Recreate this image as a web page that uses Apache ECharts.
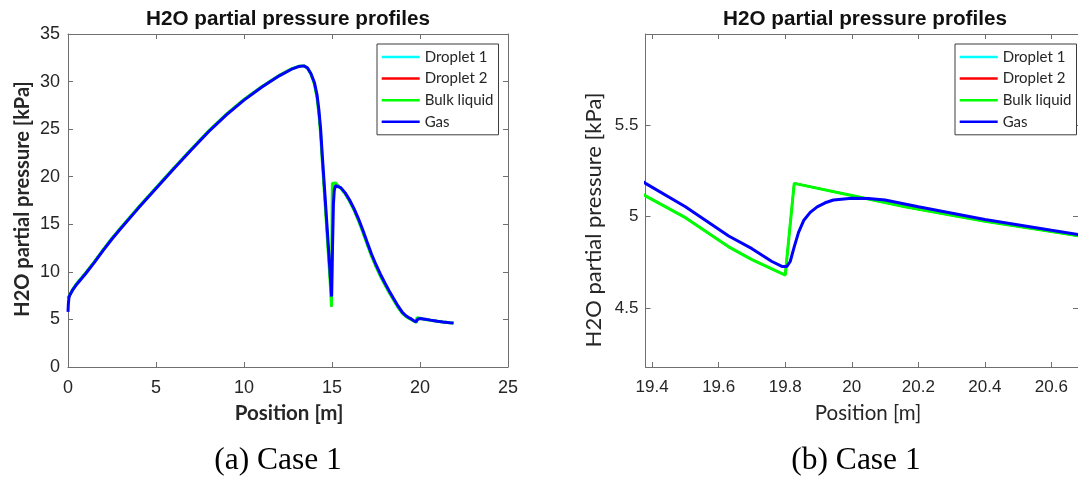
<!DOCTYPE html>
<html>
<head>
<meta charset="utf-8">
<script src="https://cdn.jsdelivr.net/npm/echarts@6/dist/echarts.min.js"></script>
<style>
  html, body { margin: 0; padding: 0; background: #ffffff; }
  #chart { width: 1078px; height: 478px; }
</style>
</head>
<body>
<div id="chart"></div>
<script>
// H2O partial pressure along the column, [position m, pressure kPa]
const gasProfile = [
  [0.00, 5.80], [0.02, 6.60], [0.05, 7.25], [0.10, 7.55], [0.25, 8.05], [0.50, 8.70],
  [0.75, 9.25], [1.00, 9.80], [1.50, 11.00], [2.00, 12.25], [2.50, 13.45], [3.00, 14.55],
  [4.00, 16.70], [5.00, 18.75], [6.00, 20.80], [7.00, 22.80], [8.00, 24.75], [9.00, 26.50],
  [10.00, 28.05], [11.00, 29.40], [12.00, 30.60], [12.70, 31.30], [13.10, 31.58], [13.40, 31.65],
  [13.60, 31.45], [13.80, 30.85], [14.00, 29.90], [14.15, 28.60], [14.25, 27.10], [14.35, 25.10],
  [14.45, 22.20], [14.60, 18.10], [14.75, 13.90], [14.90, 9.70], [14.98, 7.40], [15.03, 12.60],
  [15.08, 17.10], [15.13, 18.60], [15.20, 19.05], [15.28, 19.15], [15.50, 18.85], [15.75, 18.30],
  [16.00, 17.55], [16.25, 16.65], [16.50, 15.60], [16.75, 14.40], [17.00, 13.10], [17.25, 11.85],
  [17.50, 10.75], [17.75, 9.75], [18.00, 8.85], [18.25, 8.00], [18.50, 7.20], [18.75, 6.42],
  [19.00, 5.74], [19.20, 5.39], [19.38, 5.181], [19.50, 5.053], [19.63, 4.894], [19.70, 4.825],
  [19.76, 4.755], [19.79, 4.728], [19.805, 4.728], [19.815, 4.755], [19.827, 4.835], [19.84, 4.914],
  [19.856, 4.980], [19.875, 5.023], [19.896, 5.053], [19.92, 5.075], [19.945, 5.090], [20.00, 5.100],
  [20.05, 5.099], [20.10, 5.090], [20.20, 5.053], [20.40, 4.984], [20.60, 4.925], [20.80, 4.868],
  [21.00, 4.810], [21.30, 4.740], [21.70, 4.650], [21.90, 4.620]
];

const liquidProfile = [
  [0.00, 7.25], [0.05, 7.40], [0.10, 7.60], [0.25, 8.10], [0.50, 8.78], [0.75, 9.33],
  [1.00, 9.88], [1.50, 11.08], [2.00, 12.33], [2.50, 13.53], [3.00, 14.63], [4.00, 16.78],
  [5.00, 18.83], [6.00, 20.88], [7.00, 22.88], [8.00, 24.83], [9.00, 26.58], [10.00, 28.12],
  [11.00, 29.46], [12.00, 30.65], [12.70, 31.33], [13.10, 31.60], [13.40, 31.65], [13.60, 31.42],
  [13.80, 30.80], [14.00, 29.75], [14.15, 28.30], [14.25, 26.70], [14.35, 24.60], [14.45, 21.60],
  [14.60, 17.40], [14.75, 13.10], [14.90, 8.80], [14.97, 6.35], [15.02, 19.30], [15.10, 19.45],
  [15.20, 19.35], [15.30, 19.12], [15.50, 18.78], [15.75, 18.20], [16.00, 17.42], [16.25, 16.50],
  [16.50, 15.42], [16.75, 14.20], [17.00, 12.90], [17.25, 11.65], [17.50, 10.55], [17.75, 9.55],
  [18.00, 8.66], [18.25, 7.82], [18.50, 7.04], [18.75, 6.27], [19.00, 5.64], [19.20, 5.31],
  [19.38, 5.113], [19.50, 4.994], [19.63, 4.835], [19.70, 4.765], [19.80, 4.681], [19.827, 5.181],
  [20.00, 5.115], [20.16, 5.053], [20.40, 4.974], [20.60, 4.918], [20.80, 4.862], [21.00, 4.800],
  [21.30, 4.735], [21.70, 4.645], [21.90, 4.615]
];

// the droplet profiles coincide with the bulk liquid and lie beneath it
const droplet1Profile = liquidProfile;
const droplet2Profile = liquidProfile;

const seriesNames = ['Droplet 1', 'Droplet 2', 'Bulk liquid', 'Gas'];
const seriesColors = ['#00ffff', '#ff0000', '#00ff00', '#0000ff'];
const seriesWidths = [2, 2, 3, 3];
const seriesData = [droplet1Profile, droplet2Profile, liquidProfile, gasProfile];

const chartTitle = 'H2O partial pressure profiles';
const yTitle = 'H2O partial pressure [kPa]';
const xTitle = 'Position [m]';
const captions = ['(a) Case 1', '(b) Case 1'];

// zoomed view around the second inlet
const zoomXRange = [19.38, 20.68];
const zoomYRange = [4.18, 5.995];
const zoomXTicks = [19.4, 19.6, 19.8, 20, 20.2, 20.4, 20.6];
const zoomYTicks = [4.5, 5, 5.5];

const AXIS = '#6f6f6f';
const TICK_FONT = '"Liberation Sans", Arial, sans-serif';
const LABEL_FONT = 'Lato, "Open Sans", sans-serif';
const CAPTION_FONT = '31.5px "Liberation Serif", "DejaVu Serif", serif';
const fmt = v => String(+(+v).toFixed(2));

function frameAxis(extra) {
  return Object.assign({
    type: 'value',
    axisLine: { show: true, onZero: false, lineStyle: { color: AXIS, width: 1 } },
    axisTick: { show: true, inside: true, length: 5, lineStyle: { color: AXIS } },
    axisLabel: { show: false },
    splitLine: { show: false }
  }, extra);
}

function labelled(extra, fontSize, margin) {
  const a = frameAxis(extra);
  a.axisLabel = Object.assign({
    show: true, color: '#262626', fontFamily: TICK_FONT, fontSize: fontSize, margin: margin, formatter: fmt
  }, extra.axisLabel || {});
  return a;
}

const grids = [
  { left: 68, top: 34, width: 440, height: 333 },
  { left: 645.5, top: 34, width: 440, height: 333 }
];

const xAxes = [
  labelled({ gridIndex: 0, position: 'bottom', min: 0, max: 25, interval: 5 }, 18, 12),
  labelled({
    gridIndex: 1, position: 'bottom', min: zoomXRange[0], max: zoomXRange[1],
    axisLabel: { customValues: zoomXTicks }
  }, 17, 12),
  frameAxis({ gridIndex: 0, position: 'top', min: 0, max: 25, interval: 5 }),
  frameAxis({ gridIndex: 1, position: 'top', min: zoomXRange[0], max: zoomXRange[1] })
];
xAxes[1].axisTick.customValues = zoomXTicks;
xAxes[3].axisTick.customValues = zoomXTicks;

const yAxes = [
  labelled({ gridIndex: 0, position: 'left', min: 0, max: 35, interval: 5 }, 18, 8),
  labelled({
    gridIndex: 1, position: 'left', min: zoomYRange[0], max: zoomYRange[1],
    axisLabel: { customValues: zoomYTicks }
  }, 17, 7),
  frameAxis({ gridIndex: 0, position: 'right', min: 0, max: 35, interval: 5 }),
  frameAxis({ gridIndex: 1, position: 'right', min: zoomYRange[0], max: zoomYRange[1] })
];
yAxes[1].axisTick.customValues = zoomYTicks;
yAxes[3].axisTick.customValues = zoomYTicks;

const series = [];
[0, 1].forEach(g => {
  seriesNames.forEach((name, i) => {
    series.push({
      type: 'line', name: name, xAxisIndex: g, yAxisIndex: g,
      data: seriesData[i], color: seriesColors[i],
      showSymbol: false, symbol: 'none', smooth: false, clip: true,
      lineStyle: { color: seriesColors[i], width: seriesWidths[i] },
      z: 2 + i, animation: false
    });
  });
});

function legendAt(left) {
  return {
    orient: 'vertical', left: left, top: 44,
    data: seriesNames.map((n, i) => ({ name: n, icon: 'rect', itemStyle: { color: seriesColors[i] } })),
    itemWidth: 38, itemHeight: 2.5, itemGap: 5.6,
    padding: [5, 5, 5, 4.7],
    borderColor: '#3c3c3c', borderWidth: 1, backgroundColor: '#ffffff',
    textStyle: { fontFamily: LABEL_FONT, fontSize: 15, color: '#262626', lineHeight: 16 },
    selectedMode: false
  };
}

function text(x, y, str, font, fill, opts) {
  return Object.assign({
    type: 'text', x: x, y: y, silent: true,
    style: { text: str, font: font, fill: fill, align: 'center', verticalAlign: 'middle',
             textAlign: 'center', textVerticalAlign: 'middle' }
  }, opts || {});
}

const graphics = [
  text(288, 19, chartTitle, 'bold 20.7px "Liberation Sans", Arial, sans-serif', '#111'),
  text(865, 19, chartTitle, 'bold 20.7px "Liberation Sans", Arial, sans-serif', '#111'),
  text(23, 199, yTitle, 'bold 20px ' + LABEL_FONT, '#262626', { rotation: Math.PI / 2 }),
  text(594, 220, yTitle, '22px ' + LABEL_FONT, '#262626', { rotation: Math.PI / 2 }),
  text(289, 413, xTitle, 'bold 20.5px ' + LABEL_FONT, '#262626'),
  text(868, 413, xTitle, '20.5px ' + LABEL_FONT, '#262626'),
  text(278, 461, captions[0], CAPTION_FONT, '#000'),
  text(856, 461, captions[1], CAPTION_FONT, '#000')
];

const chart = echarts.init(document.getElementById('chart'), null, { renderer: 'canvas' });
chart.setOption({
  animation: false,
  backgroundColor: '#ffffff',
  grid: grids,
  xAxis: xAxes,
  yAxis: yAxes,
  legend: [legendAt(377), legendAt(955)],
  series: series,
  graphic: graphics
});
</script>
</body>
</html>
